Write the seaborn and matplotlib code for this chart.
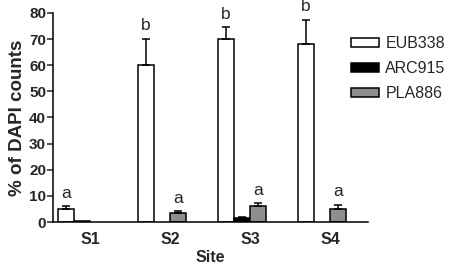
import numpy as np
import pandas as pd
import matplotlib
matplotlib.use("Agg")
import matplotlib.pyplot as plt
from matplotlib.patches import Patch
import seaborn as sns

sites = ["S1", "S2", "S3", "S4"]
probes = ["EUB338", "ARC915", "PLA886"]
eub_values = [5.0, 60.2, 70.0, 68.3]
eub_errors = [1.0, 10.0, 4.5, 9.0]
eub_letters = ["a", "b", "b", "b"]
arc_values = [0.3, None, 1.5, None]
arc_errors = [0.0, None, 0.3, None]
arc_letters = ["", None, "", None]
pla_values = [None, 3.6, 6.0, 5.0]
pla_errors = [None, 0.5, 1.2, 1.5]
pla_letters = [None, "a", "a", "a"]
colors = ["#ffffff", "#000000", "#8e8e8e"]
pad_level = "_pad"  # empty fourth slot in each group, as in the original layout

sns.set_style("ticks")
plt.rcParams["font.family"] = ["Liberation Sans", "DejaVu Sans"]

rows = []
for probe, vals, errs, lets in [
    (probes[0], eub_values, eub_errors, eub_letters),
    (probes[1], arc_values, arc_errors, arc_letters),
    (probes[2], pla_values, pla_errors, pla_letters),
]:
    for s, v, e, l in zip(sites, vals, errs, lets):
        if v is not None:
            rows.append({"Site": s, "Probe": probe, "value": v, "err": e, "letter": l})
df = pd.DataFrame(rows)

fig = plt.figure(figsize=(4.5, 2.65), dpi=100)
ax = fig.add_axes([53 / 450, 43 / 265, 315 / 450, 209 / 265])

palette = dict(zip(probes, colors))
palette[pad_level] = "#ffffff"
sns.barplot(data=df, x="Site", y="value", hue="Probe", order=sites,
            hue_order=probes + [pad_level], palette=palette, width=0.8, gap=0,
            dodge=True, edgecolor="black", linewidth=1.1, legend=False, ax=ax,
            errorbar=None)

# error bars (upper only) and significance letters, positioned on the drawn bars
for p in ax.patches:
    h = p.get_height()
    if np.isnan(h):
        continue
    cx = p.get_x() + p.get_width() / 2
    site = sites[int(round(cx))]
    m = df[(df["Site"] == site) & (np.isclose(df["value"], h))]
    if m.empty:
        continue
    r = m.iloc[0]
    if r["err"] > 0:
        ax.errorbar([cx], [h], yerr=[[0], [r["err"]]], fmt="none", ecolor="black",
                    elinewidth=1.1, capsize=2.9, capthick=1.1, zorder=3)
    if r["letter"]:
        ax.annotate(r["letter"], (cx, h + r["err"]), xytext=(0, 4),
                    textcoords="offset points", ha="center", va="bottom",
                    fontsize=12.5)

ax.set_ylim(0, 80)
ax.set_yticks(range(0, 81, 10))
ax.set_xlim(-0.465, 3.475)
ax.set_xlabel("Site", fontsize=11.5, fontweight="bold", labelpad=2)
ax.set_ylabel("% of DAPI counts", fontsize=13.5, fontweight="bold", labelpad=2)
ax.tick_params(axis="y", length=4, width=1.1, labelsize=11, pad=1)
ax.tick_params(axis="x", length=0, labelsize=11.5, pad=7)
for lab in ax.get_xticklabels() + ax.get_yticklabels():
    lab.set_fontweight("bold")
for sp in ["top", "right"]:
    ax.spines[sp].set_visible(False)
for sp in ["left", "bottom"]:
    ax.spines[sp].set_linewidth(1.1)
    ax.spines[sp].set_color("black")

handles = [Patch(facecolor=c, edgecolor="black", linewidth=1.1) for c in colors]
fig.legend(handles, probes, loc="upper left", bbox_to_anchor=(351 / 450, 1 - 36 / 265),
           frameon=False, fontsize=11.5, handlelength=1.75, handleheight=0.5,
           handletextpad=0.4, labelspacing=0.62, borderpad=0, borderaxespad=0)

fig.savefig("out.png", dpi=100)
